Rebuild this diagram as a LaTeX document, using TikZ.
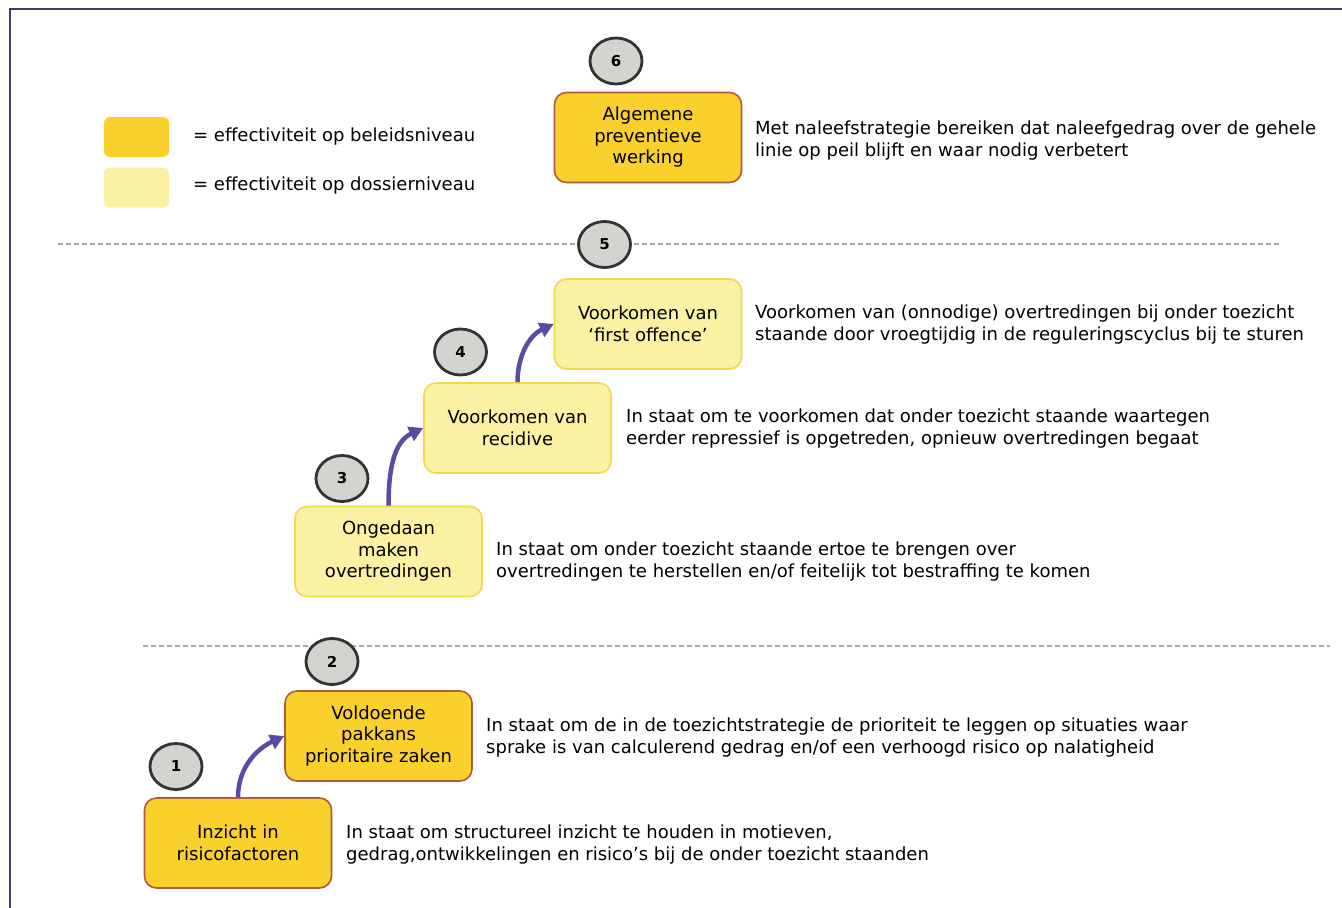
\documentclass[tikz,border=0pt]{standalone}
\usepackage{fontspec}
\setmainfont{DejaVu Sans}
\usetikzlibrary{arrows.meta,shapes.geometric}
\definecolor{darkfill}{HTML}{FAD02C}
\definecolor{darkedge}{HTML}{B35A3C}
\definecolor{lightfill}{HTML}{FAF2A2}
\definecolor{lightedge}{HTML}{F3D84E}
\definecolor{circfill}{HTML}{D3D3CF}
\definecolor{circedge}{HTML}{333333}
\definecolor{arrowcol}{HTML}{5A4BA8}
\definecolor{framecol}{HTML}{3F3C74}
\definecolor{dashcol}{HTML}{A8A8A8}
\tikzset{
  stepbase/.style={rounded corners=12pt, minimum width=187pt, minimum height=90pt, align=center, inner sep=2pt, font=\fontsize{18}{21.5}\selectfont, line width=1.6pt},
  darkbox/.style={stepbase, fill=darkfill, draw=darkedge},
  lightbox/.style={stepbase, fill=lightfill, draw=lightedge},
  numcirc/.style={ellipse, minimum width=52pt, minimum height=46pt, fill=circfill, draw=circedge, line width=2.8pt, font=\bfseries\fontsize{15}{17}\selectfont, inner sep=0pt},
  desc/.style={anchor=west, align=left, inner sep=0pt, font=\fontsize{18}{22}\selectfont},
  legbox/.style={rounded corners=6pt, minimum width=65pt, minimum height=40pt, inner sep=0pt},
  flow/.style={draw=arrowcol, line width=4.5pt, -{Triangle[length=14pt,width=15pt]}},
  sep/.style={draw=dashcol, line width=1.8pt, dash pattern=on 5pt off 3pt}
}
\begin{document}
\begin{tikzpicture}[x=1pt,y=-1pt]
\useasboundingbox (0,0) rectangle (1342,908);
\fill[white] (0,0) rectangle (1342,908);
% frame
\draw[framecol, line width=2pt] (10,908) -- (10,9) -- (1342,9);
% legend
\node[legbox, fill=darkfill] (legA) at (136.5,137) {};
\node[legbox, fill=lightfill] (legB) at (136.5,187.5) {};
\node[desc] (legAt) at (193,137) {= effectiviteit op beleidsniveau};
\node[desc] (legBt) at (193,186) {= effectiviteit op dossierniveau};
% separators
\draw[sep] (58,244) -- (1280,244);
\draw[sep] (143,646) -- (1330,646);
% boxes
\node[darkbox] (b6) at (648,137.5) {Algemene\\preventieve\\werking};
\node[lightbox] (b5) at (648,324) {Voorkomen van\\‘first offence’};
\node[lightbox] (b4) at (517.5,428) {Voorkomen van\\recidive};
\node[lightbox] (b3) at (388.5,551.5) {Ongedaan\\maken\\overtredingen};
\node[darkbox] (b2) at (378.5,736) {Voldoende\\pakkans\\prioritaire zaken};
\node[darkbox] (b1) at (238,843) {Inzicht in\\risicofactoren};
% circles
\node[numcirc] (c6) at (616,61) {6};
\node[numcirc] (c5) at (604.5,244.5) {5};
\node[numcirc] (c4) at (460.5,352) {4};
\node[numcirc] (c3) at (342,478.5) {3};
\node[numcirc] (c2) at (332,661.5) {2};
\node[numcirc] (c1) at (176,766.5) {1};
% arrows
\draw[flow] (b1.north) to[out=90, in=205] (b2.west);
\draw[flow] (b3.north) to[out=90, in=205] (b4.west);
\draw[flow] (b4.north) to[out=90, in=205] (b5.west);
% descriptions
\node[desc] (d6) at (755,141) {Met naleefstrategie bereiken dat naleefgedrag over de gehele\\linie op peil blijft en waar nodig verbetert};
\node[desc] (d5) at (755,325) {Voorkomen van (onnodige) overtredingen bij onder toezicht\\staande door vroegtijdig in de reguleringscyclus bij te sturen};
\node[desc] (d4) at (626,429) {In staat om te voorkomen dat onder toezicht staande waartegen\\eerder repressief is opgetreden, opnieuw overtredingen begaat};
\node[desc] (d3) at (496,562) {In staat om onder toezicht staande ertoe te brengen over\\overtredingen te herstellen en/of feitelijk tot bestraffing te komen};
\node[desc] (d2) at (486,738) {In staat om de in de toezichtstrategie de prioriteit te leggen op situaties waar\\sprake is van calculerend gedrag en/of een verhoogd risico op nalatigheid};
\node[desc] (d1) at (346,845) {In staat om structureel inzicht te houden in motieven,\\gedrag,ontwikkelingen en risico’s bij de onder toezicht staanden};
\end{tikzpicture}
\end{document}
